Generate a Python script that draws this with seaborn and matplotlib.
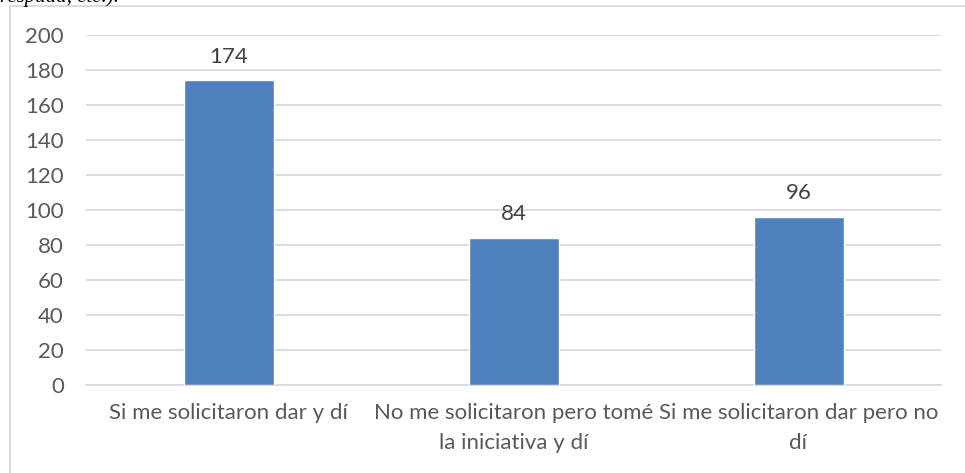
import matplotlib
matplotlib.use("Agg")
import matplotlib.pyplot as plt
import seaborn as sns
import pandas as pd
from matplotlib.patches import Rectangle

categories = [
    "Si me solicitaron dar y dí",
    "No me solicitaron pero tomé\nla iniciativa y dí",
    "Si me solicitaron dar pero no\ndí",
]
values = [174, 84, 96]
y_ticks = [0, 20, 40, 60, 80, 100, 120, 140, 160, 180, 200]

sns.set_theme(style="white")
plt.rcParams["font.family"] = ["Lato", "DejaVu Sans"]

W, H = 965, 473
fig = plt.figure(figsize=(W / 100, H / 100), dpi=100)
fig.patch.set_facecolor("white")

# outer chart frame
fig.patches.append(Rectangle((9.5 / W, -0.1), 1.2, 1.1 - 6.5 / H,
                             transform=fig.transFigure, fill=False,
                             edgecolor="#D9D9D9", linewidth=1.3))

# caption line above the chart, running off the top edge
fig.text(0.0, 1 - 2 / H, "respuda, etc.).", ha="left", va="baseline",
         fontsize=15, fontstyle="italic", family=["Liberation Serif"],
         color="black")

ax = fig.add_axes([86 / W, 1 - 385 / H, (941 - 86) / W, (385 - 35) / H])
df = pd.DataFrame({"cat": categories, "val": values})
sns.barplot(data=df, x="cat", y="val", color="#4F81BD", saturation=1,
            width=90 / 285, ax=ax, zorder=3)

ax.set_xlim(-0.5, 2.5)
ax.set_ylim(0, 200)
ax.set_yticks(y_ticks)
ax.set_yticklabels([str(t) for t in y_ticks])
ax.grid(axis="y", color="#D9D9D9", linewidth=1.3, zorder=0)
ax.grid(axis="x", visible=False)
for s in ["top", "right", "left"]:
    ax.spines[s].set_visible(False)
ax.spines["bottom"].set_color("#D9D9D9")
ax.spines["bottom"].set_linewidth(1.3)
ax.set_xlabel("")
ax.set_ylabel("")
ax.tick_params(axis="y", length=0, pad=16, labelsize=16, labelcolor="#595959")
ax.tick_params(axis="x", length=0, pad=13, labelsize=16, labelcolor="#595959")
for lab in ax.get_xticklabels():
    lab.set_linespacing(1.6)

for i, v in enumerate(values):
    ax.annotate(str(v), (i, v), xytext=(0, 17), textcoords="offset points",
                ha="center", va="center", fontsize=16, color="#404040")

fig.savefig("out.png", dpi=100)
